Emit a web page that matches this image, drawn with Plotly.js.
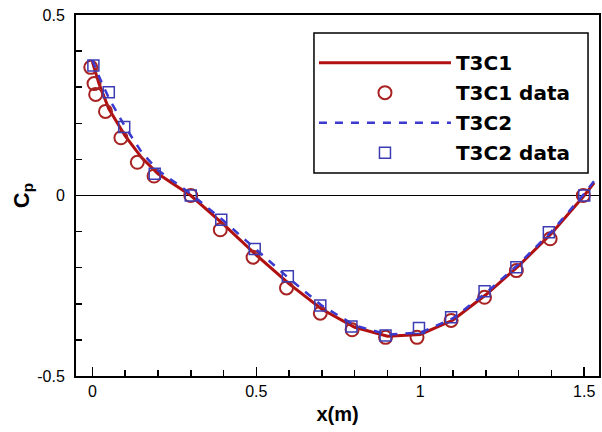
<!DOCTYPE html>
<html>
<head>
<meta charset="utf-8">
<script src="https://cdn.plot.ly/plotly-3.0.1.min.js"></script>
<style>html,body{margin:0;padding:0;background:#fff;}#chart{width:602px;height:432px;}</style>
</head>
<body>
<div id="chart"></div>
<script>
// Simulation curves
const lineX = [0, 0.02, 0.05, 0.1, 0.15, 0.2, 0.3, 0.4, 0.5, 0.6, 0.7, 0.8, 0.9, 1.0, 1.1, 1.2, 1.3, 1.4, 1.5, 1.53];
const t3c1Y = [0.37, 0.31, 0.24, 0.165, 0.105, 0.06, 0.0, -0.08, -0.165, -0.245, -0.315, -0.365, -0.39, -0.385, -0.345, -0.275, -0.195, -0.105, 0.0, 0.035];
const t3c2Y = [0.375, 0.33, 0.27, 0.19, 0.12, 0.07, 0.005, -0.07, -0.15, -0.23, -0.305, -0.36, -0.385, -0.38, -0.34, -0.27, -0.19, -0.1, 0.005, 0.04];

// Experimental data
const t3c1DataX = [-0.005, 0.005, 0.01, 0.04, 0.087, 0.137, 0.188, 0.3, 0.39, 0.49, 0.592, 0.695, 0.792, 0.894, 0.99, 1.094, 1.196, 1.293, 1.396, 1.497];
const t3c1DataY = [0.355, 0.31, 0.28, 0.233, 0.16, 0.092, 0.054, 0.0, -0.095, -0.171, -0.256, -0.326, -0.372, -0.393, -0.393, -0.346, -0.282, -0.208, -0.12, 0.0];
const t3c2DataX = [0.003, 0.05, 0.097, 0.19, 0.3, 0.393, 0.495, 0.596, 0.695, 0.79, 0.894, 0.996, 1.094, 1.196, 1.293, 1.392, 1.5];
const t3c2DataY = [0.36, 0.286, 0.19, 0.06, 0.0, -0.067, -0.148, -0.224, -0.305, -0.363, -0.388, -0.367, -0.337, -0.265, -0.199, -0.102, 0.0];

const names = ['T3C1', 'T3C1 data', 'T3C2', 'T3C2 data'];

const traces = [
  {x: lineX, y: t3c1Y, name: names[0], mode: 'lines', legendgroup: 'a',
   line: {color: '#b01010', width: 3}},
  {x: t3c1DataX, y: t3c1DataY, name: names[1], mode: 'markers', legendgroup: 'b',
   marker: {symbol: 'circle-open', size: 13, color: '#a82222', line: {width: 2, color: '#a82222'}}},
  {x: lineX, y: t3c2Y, name: names[2], mode: 'lines', legendgroup: 'c',
   line: {color: '#3a3ad0', width: 2.5, dash: '8px,8px'}},
  {x: t3c2DataX, y: t3c2DataY, name: names[3], mode: 'markers', legendgroup: 'd',
   marker: {symbol: 'square-open', size: 11, color: '#3c3cb4', line: {width: 1.5, color: '#3c3cb4'}}}
];

const layout = {
  width: 602, height: 432,
  margin: {l: 76, r: 3, t: 15, b: 56},
  paper_bgcolor: '#fff', plot_bgcolor: '#fff',
  font: {family: 'Liberation Sans, Arial, sans-serif', color: '#000', size: 16},
  showlegend: true,
  legend: {
    x: 0.455, y: 0.922, xanchor: 'left', yanchor: 'top',
    bgcolor: 'rgba(0,0,0,0)', borderwidth: 0,
    font: {size: 20, weight: 'bold', family: 'DejaVu Sans, sans-serif'},
    traceorder: 'grouped', tracegroupgap: 1, itemwidth: 132
  },
  shapes: [{
    type: 'rect', xref: 'paper', yref: 'paper', layer: 'below',
    x0: 0.455, x1: 0.979, y0: 0.562, y1: 0.950,
    line: {color: '#000', width: 1.5}, fillcolor: '#fff'
  }],
  xaxis: {
    range: [-0.05, 1.545], tickvals: [0, 0.5, 1, 1.5], ticktext: ['0', '0.5', '1', '1.5'],
    ticks: 'inside', ticklen: 9, tickwidth: 1.5, tickcolor: '#000',
    minor: {dtick: 0.1, tick0: 0, ticks: 'inside', ticklen: 6, tickwidth: 1.5, tickcolor: '#000'},
    showline: true, linecolor: '#000', linewidth: 2, mirror: true,
    showgrid: false, zeroline: false,
    title: {text: '<b>x(m)</b>', font: {size: 20}, standoff: 8}
  },
  yaxis: {
    range: [-0.5, 0.5], tickvals: [-0.5, 0, 0.5], ticktext: ['-0.5', '0', '0.5'],
    ticks: 'inside', ticklen: 9, tickwidth: 1.5, tickcolor: '#000',
    minor: {dtick: 0.1, tick0: 0, ticks: 'inside', ticklen: 6, tickwidth: 1.5, tickcolor: '#000'},
    showline: true, linecolor: '#000', linewidth: 2, mirror: true,
    showgrid: false, zeroline: true, zerolinecolor: '#000', zerolinewidth: 1.5,
    ticklabelstandoff: 6,
    title: {text: '<b>C<sub>p</sub></b>', font: {size: 22}, standoff: 2}
  }
};

Plotly.newPlot('chart', traces, layout, {staticPlot: true, displayModeBar: false});
</script>
</body>
</html>
